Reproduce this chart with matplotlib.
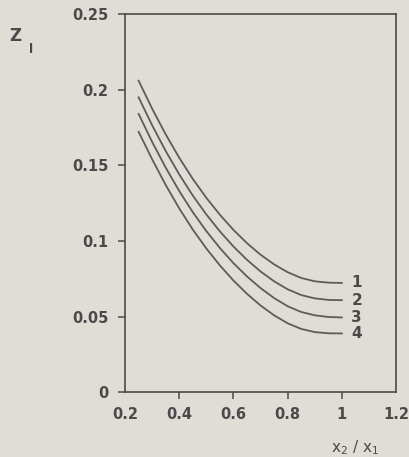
import matplotlib
matplotlib.use("Agg")
import matplotlib.pyplot as plt

x = [0.25, 0.30, 0.35, 0.40, 0.45, 0.50, 0.55, 0.60, 0.65, 0.70, 0.75, 0.80, 0.85, 0.90, 0.95, 1.00]
z1 = [0.206, 0.1875, 0.1705, 0.155, 0.141, 0.1285, 0.1173, 0.1073, 0.0985, 0.0909, 0.0845, 0.0793, 0.0755, 0.0733, 0.0724, 0.0722]
z2 = [0.195, 0.1765, 0.1595, 0.144, 0.130, 0.1175, 0.1063, 0.0963, 0.0875, 0.0798, 0.0733, 0.0680, 0.0642, 0.0620, 0.0610, 0.0608]
z3 = [0.184, 0.1655, 0.1485, 0.133, 0.119, 0.1065, 0.0953, 0.0853, 0.0765, 0.0688, 0.0622, 0.0568, 0.0530, 0.0508, 0.0497, 0.0494]
z4 = [0.1722, 0.154, 0.137, 0.1215, 0.1075, 0.095, 0.0838, 0.0738, 0.065, 0.0573, 0.0508, 0.0455, 0.0418, 0.0397, 0.0389, 0.0388]
series = [z1, z2, z3, z4]
labels = ["1", "2", "3", "4"]
xticks = [0.2, 0.4, 0.6, 0.8, 1.0, 1.2]
xticklabels = ["0.2", "0.4", "0.6", "0.8", "1", "1.2"]
yticks = [0, 0.05, 0.1, 0.15, 0.2, 0.25]
yticklabels = ["0", "0.05", "0.1", "0.15", "0.2", "0.25"]

bg = "#dfddd6"
ink = "#4a4a4a"
line_c = "#5c5c5c"

plt.rcParams['font.family'] = ['DejaVu Sans']
fig = plt.figure(figsize=(4.10, 4.57), dpi=100, facecolor=bg)
ax = fig.add_axes([0.305, 0.142, 0.661, 0.827])
ax.set_facecolor(bg)

for s in series:
    ax.plot(x, s, color=line_c, lw=1.3, solid_joinstyle="round")
for s, lab in zip(series, labels):
    ax.text(1.035, s[-1], lab, fontsize=11, fontweight="bold", color=ink,
            va="center", ha="left")

ax.set_xlim(0.2, 1.2)
ax.set_ylim(0, 0.25)
ax.set_xticks(xticks)
ax.set_xticklabels(xticklabels)
ax.set_yticks(yticks)
ax.set_yticklabels(yticklabels)
ax.tick_params(direction="out", length=5, width=1.1, color=ink, labelcolor=ink,
               labelsize=10.5)
for lbl in ax.get_xticklabels() + ax.get_yticklabels():
    lbl.set_fontweight("bold")
ax.tick_params(axis="y", pad=7)
ax.tick_params(axis="x", pad=6)
xt = ax.xaxis.get_major_ticks()
xt[0].tick1line.set_visible(False)
xt[-1].tick1line.set_visible(False)
for sp in ax.spines.values():
    sp.set_color(ink)
    sp.set_linewidth(1.2)

fig.text(0.022, 0.9015, "Z", fontsize=12, fontweight="bold", color=ink,
         ha="left", va="bottom")
fig.text(0.070, 0.877, "l", fontsize=9, fontweight="bold", color=ink,
         ha="left", va="bottom")
fig.text(0.808, 0.02, r"x$_2$ / x$_1$", fontsize=11, color=ink,
         ha="left", va="center")

fig.savefig("out.png", dpi=100, facecolor=bg)
